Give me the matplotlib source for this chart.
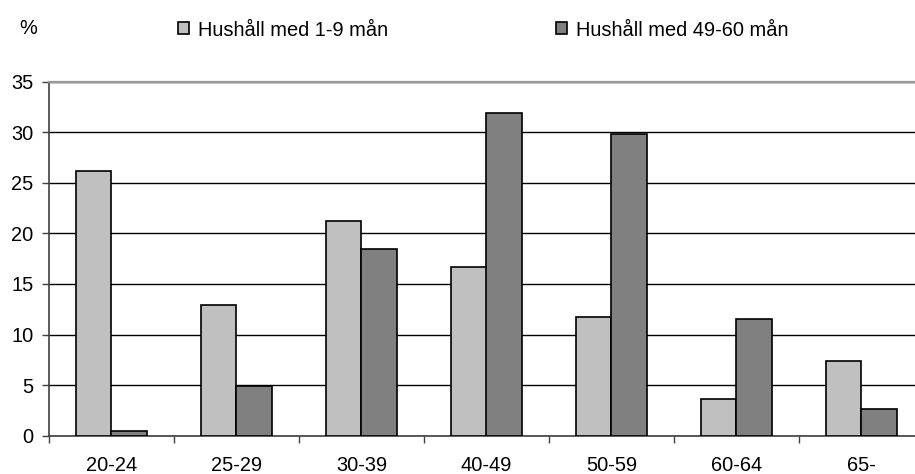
import numpy as np
import matplotlib
matplotlib.use("Agg")
import matplotlib.pyplot as plt

# Age groups and share of households (%)
age_groups = ["20-24", "25-29", "30-39", "40-49", "50-59", "60-64", "65-"]
short_term = [26.2, 12.9, 21.2, 16.7, 11.7, 3.6, 7.4]   # Hushåll med 1-9 mån
long_term = [0.5, 4.9, 18.4, 31.9, 29.8, 11.5, 2.6]     # Hushåll med 49-60 mån
series_names = ["Hushåll med 1-9 mån", "Hushåll med 49-60 mån"]
y_ticks = [0, 5, 10, 15, 20, 25, 30, 35]

plt.rcParams["font.family"] = ["Liberation Sans", "DejaVu Sans"]
fs = 14.4

W, H = 915, 474
fig = plt.figure(figsize=(W / 100, H / 100), dpi=100)
ax = fig.add_axes([49 / W, (H - 435.7) / H, 875 / W, (435.7 - 81.5) / H])

x = np.arange(len(age_groups))
w = 0.286
b1 = ax.bar(x - w / 2, short_term, w, color="#C0C0C0", edgecolor="black",
            linewidth=1.2, zorder=3, label=series_names[0])
b2 = ax.bar(x + w / 2, long_term, w, color="#808080", edgecolor="black",
            linewidth=1.2, zorder=3, label=series_names[1])

ax.set_xlim(-0.5, len(age_groups) - 0.5)
ax.set_ylim(0, 35)
ax.set_yticks(y_ticks)
ax.set_yticklabels([str(t) for t in y_ticks], fontsize=fs)
ax.yaxis.grid(True, color="black", linewidth=1.0, zorder=0)
ax.set_axisbelow(True)

ax.set_xticks(x)
ax.set_xticklabels(age_groups, fontsize=fs)
ax.set_xticks(np.arange(len(age_groups) + 1) - 0.5, minor=True)
ax.tick_params(axis="x", which="major", length=0, pad=14.5)
ax.tick_params(axis="x", which="minor", length=5, width=1, color="#404040",
               direction="out")
ax.tick_params(axis="y", length=5, width=1, color="#404040", pad=6)

for side in ["left", "bottom"]:
    ax.spines[side].set_color("#404040")
    ax.spines[side].set_linewidth(1.2)
ax.spines["top"].set_color("#999999")
ax.spines["top"].set_linewidth(1.6)
ax.spines["right"].set_visible(False)

fig.text(28 / W, 1 - 28 / H, "%", ha="center", va="center", fontsize=fs)

fig.legend(handles=[b1, b2], loc="center left",
           bbox_to_anchor=(178 / W, 1 - 30 / H), ncol=2, frameon=False,
           fontsize=fs, handlelength=0.55, handleheight=0.55,
           handletextpad=0.45, columnspacing=8.4, borderpad=0,
           borderaxespad=0)

fig.savefig("out.png", dpi=100)
